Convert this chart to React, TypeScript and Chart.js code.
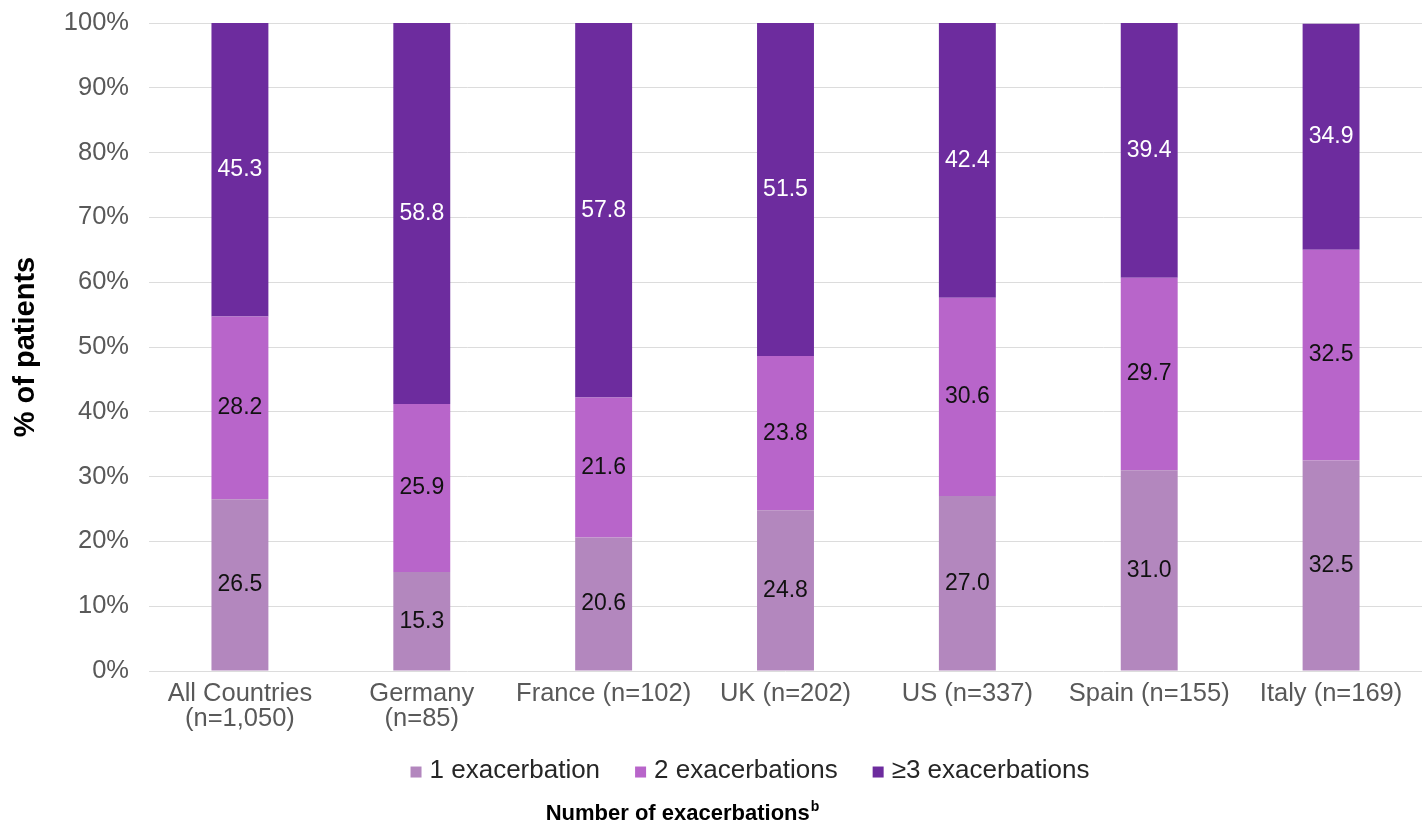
import React, { useEffect, useRef } from "react";
import { Chart, registerables } from "chart.js";

Chart.register(...registerables);

const categories: (string | string[])[] = [
  ["All Countries", "(n=1,050)"],
  ["Germany", "(n=85)"],
  "France (n=102)",
  "UK (n=202)",
  "US (n=337)",
  "Spain (n=155)",
  "Italy (n=169)",
];

const oneExacerbation = [26.5, 15.3, 20.6, 24.8, 27.0, 31.0, 32.5];
const twoExacerbations = [28.2, 25.9, 21.6, 23.8, 30.6, 29.7, 32.5];
const threePlusExacerbations = [45.3, 58.8, 57.8, 51.5, 42.4, 39.4, 34.9];

const seriesNames = ["1 exacerbation", "2 exacerbations", "\u22653 exacerbations"];
const seriesColors = ["#B387BE", "#B865CA", "#6D2C9E"];
const labelColors = ["#111111", "#111111", "#FFFFFF"];

const yTicks = [0, 10, 20, 30, 40, 50, 60, 70, 80, 90, 100];

const xAxisTitle = "Number of exacerbations";
const xAxisTitleSup = "b";

const FONT = "'Liberation Sans', Arial, Helvetica, sans-serif";

const valueLabels = {
  id: "valueLabels",
  afterDatasetsDraw(chart: any) {
    const ctx = chart.ctx;
    ctx.save();
    ctx.font = `23px ${FONT}`;
    ctx.textAlign = "center";
    ctx.textBaseline = "middle";
    chart.data.datasets.forEach((ds: any, di: number) => {
      const meta = chart.getDatasetMeta(di);
      meta.data.forEach((el: any, i: number) => {
        const v = ds.data[i];
        const top = Math.max(el.y, chart.chartArea.top);
        const y = (top + el.base) / 2;
        ctx.fillStyle = labelColors[di];
        ctx.fillText(Number(v).toFixed(1), el.x, y);
      });
    });
    ctx.restore();
  },
};

// Legend and bottom axis title drawn in the space reserved by layout padding
const bottomLegend = {
  id: "bottomLegend",
  afterDraw(chart: any) {
    const ctx = chart.ctx;
    const area = chart.chartArea;
    ctx.save();
    const box = 11;
    const gap = 8;
    const spacing = 35;
    ctx.font = `26px ${FONT}`;
    ctx.textBaseline = "middle";
    ctx.textAlign = "left";
    const items = chart.data.datasets.map((ds: any) => ({
      text: ds.label,
      color: ds.backgroundColor,
      w: ctx.measureText(ds.label).width,
    }));
    const total =
      items.reduce((s: number, it: any) => s + box + gap + it.w, 0) + spacing * (items.length - 1);
    const legendY = area.bottom + 100;
    let x = 750 - total / 2;
    items.forEach((it: any) => {
      ctx.fillStyle = it.color;
      ctx.fillRect(x, legendY - box / 2 + 1, box, box);
      ctx.fillStyle = "#262626";
      ctx.fillText(it.text, x + box + gap, legendY);
      x += box + gap + it.w + spacing;
    });
    const titleY = area.bottom + 143;
    ctx.fillStyle = "#000000";
    ctx.font = `bold 22px ${FONT}`;
    const mainW = ctx.measureText(xAxisTitle).width;
    ctx.font = `bold 14px ${FONT}`;
    const supW = ctx.measureText(xAxisTitleSup).width;
    const start = 682 - (mainW + supW) / 2;
    ctx.font = `bold 22px ${FONT}`;
    ctx.fillText(xAxisTitle, start, titleY);
    ctx.font = `bold 14px ${FONT}`;
    ctx.fillText(xAxisTitleSup, start + mainW + 1, titleY - 7);
    ctx.restore();
  },
};

export default function App() {
  const ref = useRef<HTMLCanvasElement | null>(null);

  useEffect(() => {
    document.body.style.margin = "0";
    if (!ref.current) return;
    const datasets = [oneExacerbation, twoExacerbations, threePlusExacerbations].map((d, i) => ({
      label: seriesNames[i],
      data: d,
      backgroundColor: seriesColors[i],
      borderWidth: 0,
      barPercentage: 0.313,
      categoryPercentage: 1,
    }));
    const chart = new Chart(ref.current, {
      type: "bar",
      data: { labels: categories, datasets },
      plugins: [valueLabels, bottomLegend],
      options: {
        responsive: false,
        animation: false,
        devicePixelRatio: 1,
        layout: { padding: { top: 0, right: 0, left: 0, bottom: 84 } },
        scales: {
          x: {
            stacked: true,
            grid: { display: false, drawTicks: false },
            border: { display: false },
            ticks: {
              color: "#595959",
              font: { family: FONT, size: 25.5, lineHeight: 0.98 },
              padding: 10,
              maxRotation: 0,
              autoSkip: false,
            },
          },
          y: {
            stacked: true,
            min: 0,
            max: 100,
            afterFit: (scale: any) => {
              scale.width = 149;
            },
            afterBuildTicks: (scale: any) => {
              scale.ticks = yTicks.map((v) => ({ value: v }));
            },
            grid: { color: "#DCDCDC", lineWidth: 1, drawTicks: false },
            border: { display: false },
            ticks: {
              color: "#595959",
              font: { family: FONT, size: 25.5, lineHeight: 0.24 },
              padding: 20,
              callback: (v: any) => `${v}%`,
            },
            title: {
              display: true,
              text: "% of patients",
              color: "#000000",
              font: { family: FONT, size: 29, weight: "bold" },
              padding: { top: 9, bottom: 0 },
            },
          },
        },
        plugins: {
          tooltip: { enabled: false },
          legend: { display: false },
          title: { display: false },
        },
      },
    });
    return () => chart.destroy();
  }, []);

  return (
    <div style={{ width: 1422, height: 825 }}>
      <canvas ref={ref} width={1422} height={825} style={{ display: "block" }} />
    </div>
  );
}
